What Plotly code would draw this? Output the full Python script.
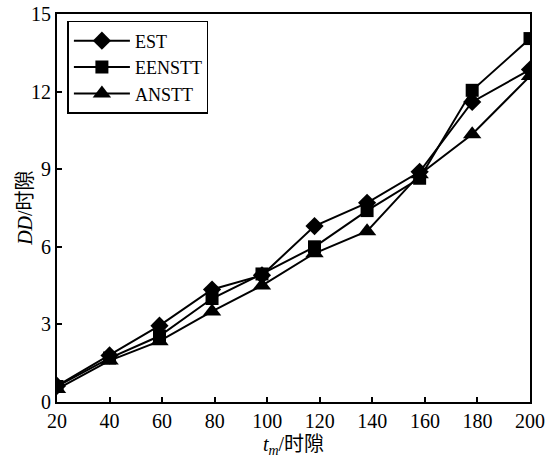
import plotly.graph_objects as go

x_vals = [20, 40, 59, 79, 98, 118, 138, 158, 178, 200]
est = [0.62, 1.8, 2.95, 4.35, 4.9, 6.8, 7.7, 8.9, 11.6, 12.85]
eenstt = [0.6, 1.7, 2.55, 4.0, 4.95, 6.0, 7.4, 8.65, 12.05, 14.05]
anstt = [0.5, 1.6, 2.35, 3.5, 4.5, 5.75, 6.6, 8.8, 10.35, 12.6]
series_names = ["EST", "EENSTT", "ANSTT"]
x_ticks = [20, 40, 60, 80, 100, 120, 140, 160, 180, 200]
y_ticks = [0, 3, 6, 9, 12, 15]

fig = go.Figure()
for name, vals, sym, sz in zip(series_names, [est, eenstt, anstt],
                               ["diamond", "square", "triangle-up"], [14, 13, 16]):
    fig.add_trace(go.Scatter(
        x=x_vals, y=vals, name=name, mode="lines+markers",
        line=dict(color="black", width=2),
        marker=dict(symbol=sym, size=sz, color="black"),
    ))

font_main = "Liberation Serif, Times New Roman, Noto Sans CJK SC, serif"

fig.update_layout(
    width=557, height=458,
    margin=dict(l=57, r=27, t=14, b=56, autoexpand=False),
    paper_bgcolor="white", plot_bgcolor="white",
    font=dict(family=font_main, size=20, color="black"),
    showlegend=True,
    legend=dict(
        x=0.022, y=0.982, xanchor="left", yanchor="top",
        bordercolor="black", borderwidth=1.5, bgcolor="white",
        font=dict(size=18, family=font_main),
        tracegroupgap=0, itemwidth=56,
    ),
    xaxis=dict(
        range=[20, 200], tickvals=x_ticks, ticks="inside", ticklen=5,
        tickwidth=1.5, tickcolor="black",
        showline=True, linecolor="black", linewidth=2, mirror=True,
        showgrid=False, zeroline=False, automargin=False,
        title=dict(text="<i>t</i><sub><i>m</i></sub>/时隙",
                   font=dict(size=20, family=font_main)),
    ),
    yaxis=dict(
        range=[0, 15], tickvals=y_ticks, ticks="inside", ticklen=5,
        tickwidth=1.5, tickcolor="black",
        showline=True, linecolor="black", linewidth=2, mirror=True,
        showgrid=False, zeroline=False, automargin=False,
    ),
    annotations=[dict(
        text="<i>DD</i>/时隙", xref="paper", yref="paper",
        x=-0.068, y=0.5, xanchor="center", yanchor="middle",
        textangle=-90, showarrow=False,
        font=dict(size=20, family=font_main),
    )],
)

fig.write_html("out.html")
